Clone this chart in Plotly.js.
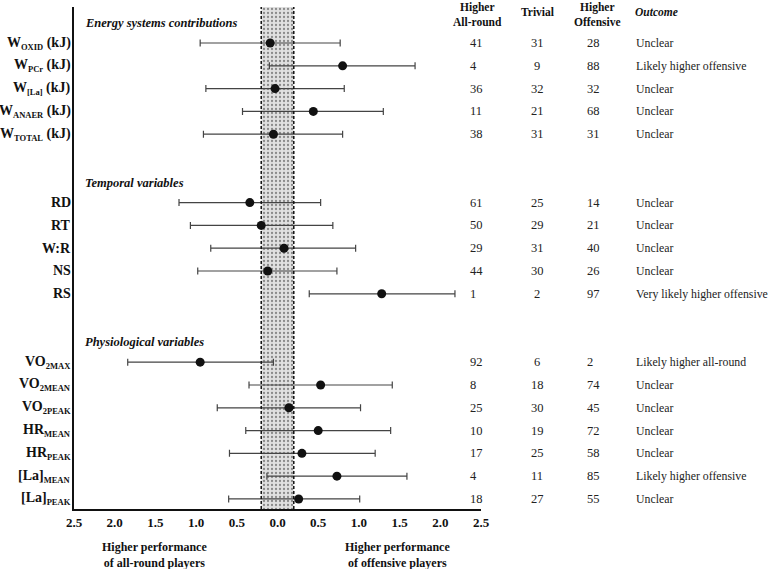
<!DOCTYPE html>
<html>
<head>
<meta charset="utf-8">
<script src="https://cdn.plot.ly/plotly-3.0.1.min.js"></script>
<style>body{margin:0;padding:0;background:#fff;} #chart{width:770px;height:569px;}</style>
</head>
<body>
<div id="chart"></div>
<script>
// ---- data ----
const sectionTitles = ['Energy systems contributions', 'Temporal variables', 'Physiological variables'];
const sectionSizes = [5, 5, 7];
const variableBase = ['W', 'W', 'W', 'W', 'W', 'RD', 'RT', 'W:R', 'NS', 'RS', 'VO', 'VO', 'VO', 'HR', 'HR', '[La]', '[La]'];
const variableSub  = ['OXID', 'PCr', '[La]', 'ANAER', 'TOTAL', '', '', '', '', '', '2MAX', '2MEAN', '2PEAK', 'MEAN', 'PEAK', 'MEAN', 'PEAK'];
const variableUnit = [' (kJ)', ' (kJ)', ' (kJ)', ' (kJ)', ' (kJ)', '', '', '', '', '', '', '', '', '', '', '', ''];
const estimate = [-0.09, 0.80, -0.03, 0.44, -0.05, -0.34, -0.20, 0.08, -0.12, 1.28, -0.95, 0.53, 0.14, 0.50, 0.30, 0.73, 0.26];
const lowerCI  = [-0.95, -0.10, -0.88, -0.43, -0.91, -1.21, -1.07, -0.82, -0.98, 0.39, -1.84, -0.35, -0.74, -0.39, -0.59, -0.13, -0.60];
const upperCI  = [0.77, 1.69, 0.82, 1.30, 0.80, 0.53, 0.68, 0.96, 0.73, 2.18, -0.05, 1.41, 1.02, 1.39, 1.20, 1.59, 1.01];
const pctAllRound  = [41, 4, 36, 11, 38, 61, 50, 29, 44, 1, 92, 8, 25, 10, 17, 4, 18];
const pctTrivial   = [31, 9, 32, 21, 31, 25, 29, 31, 30, 2, 6, 18, 30, 19, 25, 11, 27];
const pctOffensive = [28, 88, 32, 68, 31, 14, 21, 40, 26, 97, 2, 74, 45, 72, 58, 85, 55];
const outcome = [
  'Unclear', 'Likely higher offensive', 'Unclear', 'Unclear', 'Unclear',
  'Unclear', 'Unclear', 'Unclear', 'Unclear', 'Very likely higher offensive',
  'Likely higher all-round', 'Unclear', 'Unclear', 'Unclear', 'Unclear', 'Likely higher offensive', 'Unclear'
];
const tableHeaders = ['Higher<br>All-round', 'Trivial', 'Higher<br>Offensive', 'Outcome'];
const xTickVals = [-2.5, -2.0, -1.5, -1.0, -0.5, 0.0, 0.5, 1.0, 1.5, 2.0, 2.5];
const xTickText = ['2.5', '2.0', '1.5', '1.0', '0.5', '0.0', '0.5', '1.0', '1.5', '2.0', '2.5'];
const trivialBand = [-0.2, 0.2];
const directionLabels = ['Higher performance<br>of all-round players', 'Higher performance<br>of offensive players'];

// ---- layout helpers ----
const serif = 'Liberation Serif';
const yRange = [21.44, -0.58];
const rowPos = [], headerPos = [];
let idx = 0;
sectionSizes.forEach(n => {
  headerPos.push(idx + 1 - 0.87);
  for (let i = 0; i < n; i++) rowPos.push(idx + 1 + i);
  idx += n + 2;
});
const variableLabels = variableBase.map((b, i) =>
  b + (variableSub[i] ? '<sub><span style="font-size:8.5px">' + variableSub[i] + '</span></sub>' : '') + variableUnit[i]);

const plotL = 74, plotT = 7, plotW = 407, plotH = 502;
const px2paper = p => (p - plotL) / plotW;
const py2paper = p => 1 - (p - plotT) / plotH;

const traces = [
  {
    type: 'scatter', mode: 'lines', hoverinfo: 'skip', showlegend: false,
    x: [trivialBand[0], trivialBand[1], trivialBand[1], trivialBand[0], trivialBand[0]],
    y: [yRange[1], yRange[1], yRange[0], yRange[0], yRange[1]],
    fill: 'toself', fillcolor: '#dcdcdc',
    fillpattern: {shape: '.', bgcolor: '#e0e0e0', fgcolor: '#8a8a8a', size: 4, solidity: 0.25},
    line: {width: 0}
  },
  {
    type: 'scatter', mode: 'markers', showlegend: false,
    x: estimate, y: rowPos,
    marker: {color: '#111', size: 9},
    error_x: {
      type: 'data', symmetric: false,
      array: upperCI.map((u, i) => u - estimate[i]),
      arrayminus: lowerCI.map((l, i) => estimate[i] - l),
      color: '#444', thickness: 1.2, width: 3.5
    },
    cliponaxis: false
  }
];

const annotations = [];
variableLabels.forEach((lab, i) => annotations.push({
  xref: 'paper', yref: 'y', x: px2paper(72), y: rowPos[i], xanchor: 'right', yanchor: 'middle',
  text: '<b>' + lab + '</b>', showarrow: false, borderpad: 0,
  font: {family: serif, size: 14, color: '#111'}
}));
sectionTitles.forEach((t, s) => annotations.push({
  xref: 'x', yref: 'y', x: -2.39, y: headerPos[s], xanchor: 'left', yanchor: 'middle',
  text: '<b><i>' + t + '</i></b>', showarrow: false,
  font: {family: serif, size: 12.5, color: '#111'}
}));
const colX = [px2paper(468), px2paper(537), px2paper(585), px2paper(634)];
const colAnchor = ['left', 'center', 'left', 'left'];
const colSize = [12.5, 12.5, 12.5, 11.8];
const cols = [pctAllRound, pctTrivial, pctOffensive, outcome];
cols.forEach((arr, c) => arr.forEach((v, i) => annotations.push({
  xref: 'paper', yref: 'y', x: colX[c], y: rowPos[i], xanchor: colAnchor[c], yanchor: 'middle',
  text: String(v), showarrow: false, font: {family: serif, size: colSize[c], color: '#222'}
})));
const headX = [px2paper(477), px2paper(537), px2paper(597), px2paper(634)];
const headAnchor = ['center', 'center', 'center', 'left'];
tableHeaders.forEach((h, c) => {
  const lines = h.split('<br>');
  lines.forEach((ln, k) => {
    const single = lines.length === 1;
    annotations.push({
      xref: 'paper', yref: 'paper', x: headX[c],
      y: single ? py2paper(12) : py2paper(k === 0 ? 0 : 15),
      xanchor: headAnchor[c], yanchor: single ? 'middle' : 'top',
      text: c === 3 ? '<b><i>' + ln + '</i></b>' : '<b>' + ln + '</b>', showarrow: false, borderpad: 0,
      font: {family: serif, size: 11.5, color: '#111'}
    });
  });
});
const dirX = [px2paper(154), px2paper(397)];
directionLabels.forEach((d, k) => annotations.push({
  xref: 'paper', yref: 'paper', x: dirX[k], y: py2paper(555), xanchor: 'center', yanchor: 'middle',
  text: '<b>' + d + '</b>', showarrow: false,
  font: {family: serif, size: 12, color: '#111'}
}));

const shapes = trivialBand.map(b => ({
  type: 'line', xref: 'x', yref: 'paper', x0: b, x1: b, y0: 0, y1: 1,
  line: {color: '#111', width: 1.5, dash: '3px,2px'}, layer: 'above'
}));

const layout = {
  width: 770, height: 569,
  margin: {l: plotL, r: 770 - plotL - plotW, t: plotT, b: 569 - plotT - plotH},
  paper_bgcolor: '#fff', plot_bgcolor: '#fff',
  showlegend: false,
  font: {family: serif},
  xaxis: {
    range: [-2.5, 2.5], tickvals: xTickVals, ticktext: xTickText,
    showgrid: false, zeroline: false, showline: true, linecolor: '#111', linewidth: 2,
    ticks: '', tickfont: {family: serif, size: 13, color: '#111', weight: 'bold'}
  },
  yaxis: {
    range: yRange, tickvals: rowPos, showticklabels: false,
    showgrid: false, zeroline: false, showline: true, linecolor: '#111', linewidth: 2,
    ticks: ''
  },
  annotations: annotations,
  shapes: shapes
};

Plotly.newPlot('chart', traces, layout, {displayModeBar: false, staticPlot: true});
</script>
</body>
</html>
